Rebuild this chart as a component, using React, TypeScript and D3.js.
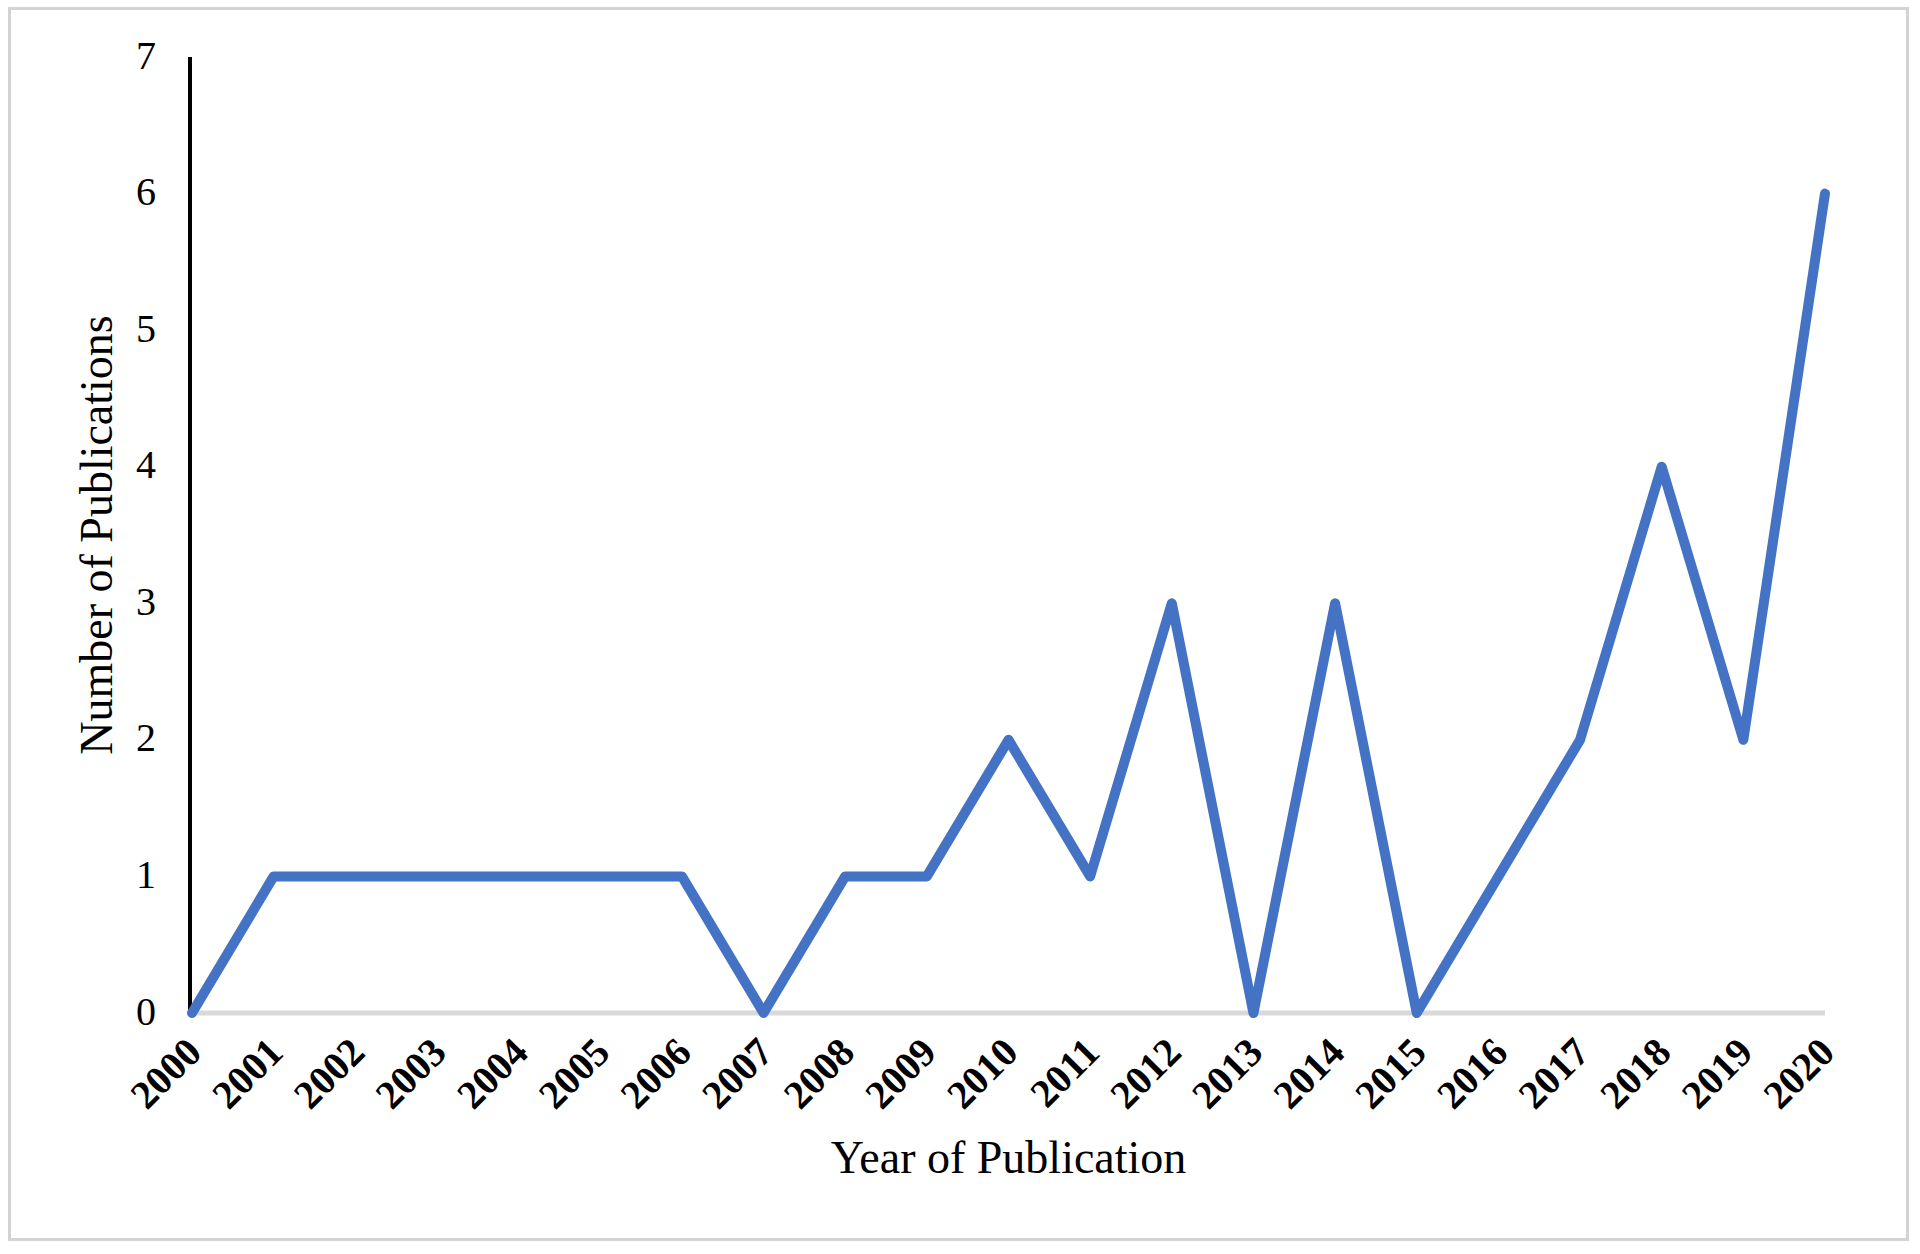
import * as React from "react";
import * as d3 from "d3";

// values
const YEARS: string[] = [
  "2000", "2001", "2002", "2003", "2004", "2005", "2006", "2007", "2008", "2009", "2010",
  "2011", "2012", "2013", "2014", "2015", "2016", "2017", "2018", "2019", "2020",
];
const PUBLICATIONS: number[] = [0, 1, 1, 1, 1, 1, 1, 0, 1, 1, 2, 1, 3, 0, 3, 0, 1, 2, 4, 2, 6];
const Y_TICKS: number[] = [0, 1, 2, 3, 4, 5, 6, 7];

const W = 1920;
const H = 1254;
const FONT = "'Liberation Serif', 'Times New Roman', serif";

export default function App() {
  const ref = React.useRef<SVGSVGElement | null>(null);

  React.useEffect(() => {
    if (!ref.current) return;
    const svg = d3.select(ref.current);
    svg.selectAll("*").remove();

    const left = 192;
    const right = 1825;
    const top = 57;
    const bottom = 1013;

    const x = d3.scalePoint<string>().domain(YEARS).range([left, right]);
    const y = d3.scaleLinear().domain([0, 7]).range([bottom, top]);

    svg.append("rect").attr("width", W).attr("height", H).attr("fill", "#fff");

    // outer frame
    svg.append("rect")
      .attr("x", 9.5)
      .attr("y", 8.5)
      .attr("width", 1898)
      .attr("height", 1231)
      .attr("fill", "none")
      .attr("stroke", "#d3d3d3")
      .attr("stroke-width", 3);

    // y axis
    svg.append("line")
      .attr("x1", left - 2)
      .attr("x2", left - 2)
      .attr("y1", y(7))
      .attr("y2", y(0))
      .attr("stroke", "#000")
      .attr("stroke-width", 4);

    svg.append("g")
      .selectAll("text")
      .data(Y_TICKS)
      .join("text")
      .attr("x", 156)
      .attr("y", (d) => y(d) - 2)
      .attr("text-anchor", "end")
      .attr("dominant-baseline", "central")
      .attr("font-family", FONT)
      .attr("font-size", 40)
      .attr("fill", "#000")
      .text((d) => d);

    // x axis
    svg.append("line")
      .attr("x1", left - 2)
      .attr("x2", right)
      .attr("y1", bottom)
      .attr("y2", bottom)
      .attr("stroke", "#d9d9d9")
      .attr("stroke-width", 5);

    svg.append("g")
      .selectAll("text")
      .data(YEARS)
      .join("text")
      .attr("transform", (d) => `translate(${(x(d) as number) + 2},${bottom + 32}) rotate(-45)`)
      .attr("text-anchor", "end")
      .attr("dominant-baseline", "central")
      .attr("font-family", FONT)
      .attr("font-weight", "bold")
      .attr("font-size", 40)
      .attr("fill", "#000")
      .text((d) => d);

    // series line
    const line = d3.line<number>()
      .x((_, i) => x(YEARS[i]) as number)
      .y((d) => y(d));

    svg.append("path")
      .attr("d", line(PUBLICATIONS) as string)
      .attr("fill", "none")
      .attr("stroke", "#4472c4")
      .attr("stroke-width", 10)
      .attr("stroke-linejoin", "round")
      .attr("stroke-linecap", "round");

    // axis titles
    svg.append("text")
      .attr("x", (left + right) / 2)
      .attr("y", 1173)
      .attr("text-anchor", "middle")
      .attr("font-family", FONT)
      .attr("font-size", 46)
      .attr("fill", "#000")
      .text("Year of Publication");

    svg.append("text")
      .attr("transform", `translate(112,${(top + bottom) / 2}) rotate(-90)`)
      .attr("text-anchor", "middle")
      .attr("font-family", FONT)
      .attr("font-size", 46)
      .attr("fill", "#000")
      .text("Number of Publications");
  }, []);

  return (
    <svg
      ref={ref}
      width={W}
      height={H}
      style={{ position: "absolute", left: 0, top: 0, display: "block" }}
    />
  );
}
